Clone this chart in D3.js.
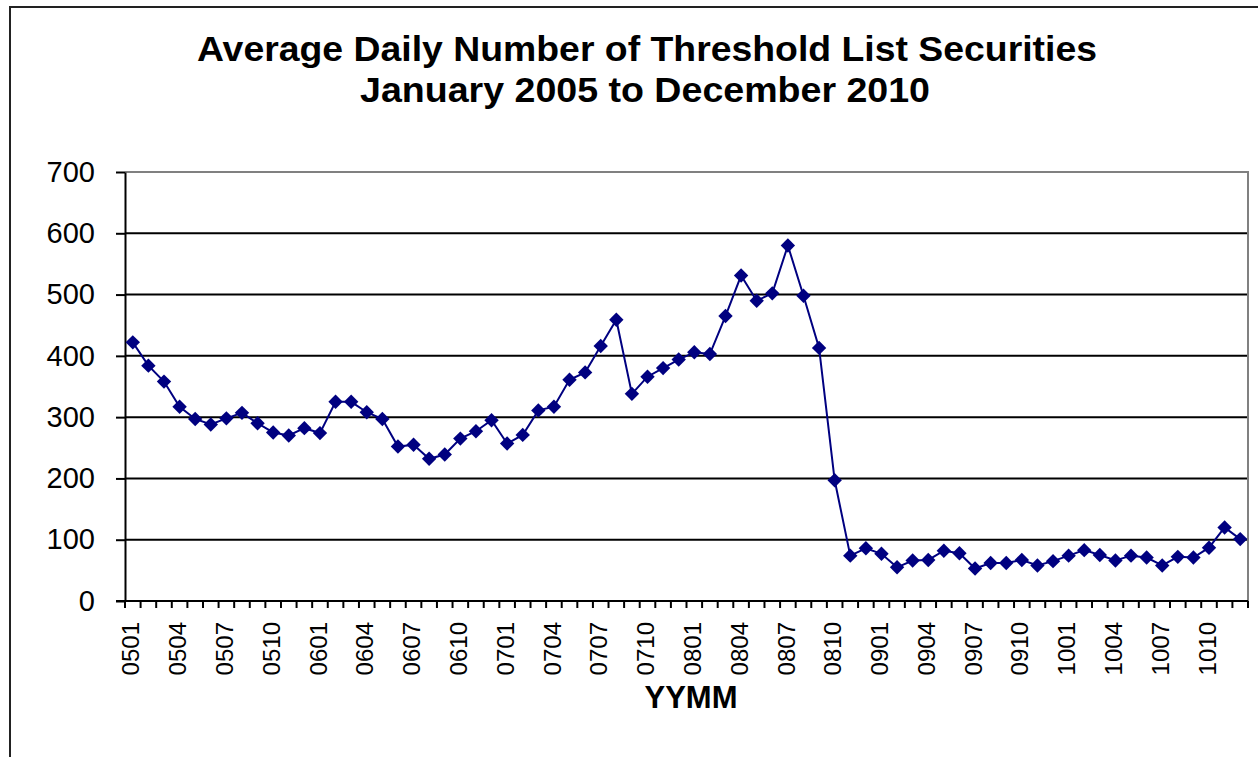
<!DOCTYPE html>
<html>
<head>
<meta charset="utf-8">
<script src="https://cdn.jsdelivr.net/npm/d3@7"></script>
<style>
  html, body { margin: 0; padding: 0; background: #fff; }
  svg { display: block; font-family: "Liberation Sans", Arial, sans-serif; }
</style>
</head>
<body>
<svg id="chart" width="1258" height="757"></svg>
<script>
// Monthly categories, January 2005 through December 2010 (YYMM)
const years = ["05", "06", "07", "08", "09", "10"];
const months = ["01","02","03","04","05","06","07","08","09","10","11","12"];
const categories = years.flatMap(y => months.map(m => y + m));

// Average daily number of threshold list securities per month
const values = [
  422, 384, 358, 317, 297, 288, 298, 307, 290, 275, 270, 282,
  274, 325, 325, 308, 297, 252, 255, 232, 239, 265, 277, 295,
  257, 271, 311, 317, 361, 373, 416, 459, 338, 366, 380, 394,
  406, 403, 465, 531, 490, 502, 580, 498, 413, 197, 74, 86,
  77, 55, 66, 67, 82, 78, 53, 62, 62, 67, 58, 65,
  74, 83, 75, 66, 74, 71, 58, 72, 71, 87, 120, 101
];

// Every third month gets a tick label
const tickLabels = categories.filter((d, i) => i % 3 === 0);
const yTicks = [0, 100, 200, 300, 400, 500, 600, 700];

const titleLines = [
  "Average Daily Number of Threshold List Securities",
  "January 2005 to December 2010"
];
const xTitle = "YYMM";

const svg = d3.select("#chart");
const plot = { left: 125, right: 1248, top: 172, bottom: 601 };

// Outer chart frame
svg.append("path")
  .attr("d", `M10,760 V7 H1262`)
  .attr("fill", "none")
  .attr("stroke", "#222")
  .attr("stroke-width", 2);

// Title (condensed bold)
const title = svg.append("g").attr("font-weight", "bold").attr("fill", "#000");
title.append("text")
  .attr("x", 647).attr("y", 61)
  .attr("text-anchor", "middle")
  .attr("font-size", 35)
  .attr("textLength", 900).attr("lengthAdjust", "spacingAndGlyphs")
  .text(titleLines[0]);
title.append("text")
  .attr("x", 645).attr("y", 102)
  .attr("text-anchor", "middle")
  .attr("font-size", 35)
  .attr("textLength", 570).attr("lengthAdjust", "spacingAndGlyphs")
  .text(titleLines[1]);

// Scales
const x = d3.scaleBand().domain(categories).range([plot.left, plot.right]);
const y = d3.scaleLinear().domain([0, 700]).range([plot.bottom, plot.top]);

// Horizontal gridlines
svg.append("g")
  .selectAll("line")
  .data(yTicks.filter(t => t > 0 && t < 700))
  .join("line")
  .attr("x1", plot.left).attr("x2", plot.right)
  .attr("y1", d => y(d)).attr("y2", d => y(d))
  .attr("stroke", "#000").attr("stroke-width", 2);

// Plot border (top and right)
svg.append("path")
  .attr("d", `M${plot.left},${y(700)} H${plot.right} V${plot.bottom}`)
  .attr("fill", "none")
  .attr("stroke", "#808080")
  .attr("stroke-width", 2);

// Y axis
const yAxis = svg.append("g")
  .attr("transform", `translate(${plot.left},0)`)
  .call(d3.axisLeft(y).tickValues(yTicks).tickSize(9).tickPadding(21).tickSizeOuter(0));
yAxis.select(".domain").attr("stroke", "#000").attr("stroke-width", 2);
yAxis.selectAll(".tick line").attr("stroke", "#000").attr("stroke-width", 2);
yAxis.selectAll(".tick text")
  .attr("font-size", 29)
  .attr("font-family", "Liberation Sans, Arial, sans-serif")
  .attr("fill", "#000");

// X axis: ticks at category boundaries
const boundaries = d3.range(categories.length + 1).map(i => plot.left + i * x.step());
const xAxisG = svg.append("g");
xAxisG.append("line")
  .attr("x1", plot.left - 9).attr("x2", plot.right)
  .attr("y1", plot.bottom).attr("y2", plot.bottom)
  .attr("stroke", "#000").attr("stroke-width", 2);
xAxisG.selectAll("line.tick")
  .data(boundaries)
  .join("line")
  .attr("class", "tick")
  .attr("x1", d => d).attr("x2", d => d)
  .attr("y1", plot.bottom).attr("y2", plot.bottom + 7)
  .attr("stroke", "#000").attr("stroke-width", 2);

xAxisG.selectAll("text.label")
  .data(tickLabels)
  .join("text")
  .attr("class", "label")
  .attr("transform", d => `translate(${x(d) + x.bandwidth() / 2 - 2},${plot.bottom + 21}) rotate(-90)`)
  .attr("text-anchor", "end")
  .attr("dy", "0.36em")
  .attr("font-size", 24)
  .attr("fill", "#000")
  .text(d => d);

// X axis title
svg.append("text")
  .attr("x", 691).attr("y", 708)
  .attr("text-anchor", "middle")
  .attr("font-size", 31)
  .attr("font-weight", "bold")
  .attr("fill", "#000")
  .text(xTitle);

// Series line
const data = categories.map((c, i) => ({ c, v: values[i] }));
const cx = d => x(d.c) + x.bandwidth() / 2;

svg.append("path")
  .datum(data)
  .attr("fill", "none")
  .attr("stroke", "#000080")
  .attr("stroke-width", 2)
  .attr("d", d3.line().x(cx).y(d => y(d.v)));

// Diamond markers
const r = 7.2;
svg.append("g")
  .selectAll("path")
  .data(data)
  .join("path")
  .attr("transform", d => `translate(${cx(d)},${y(d.v)})`)
  .attr("d", `M0,${-r} L${r},0 L0,${r} L${-r},0 Z`)
  .attr("fill", "#000080");
</script>
</body>
</html>
